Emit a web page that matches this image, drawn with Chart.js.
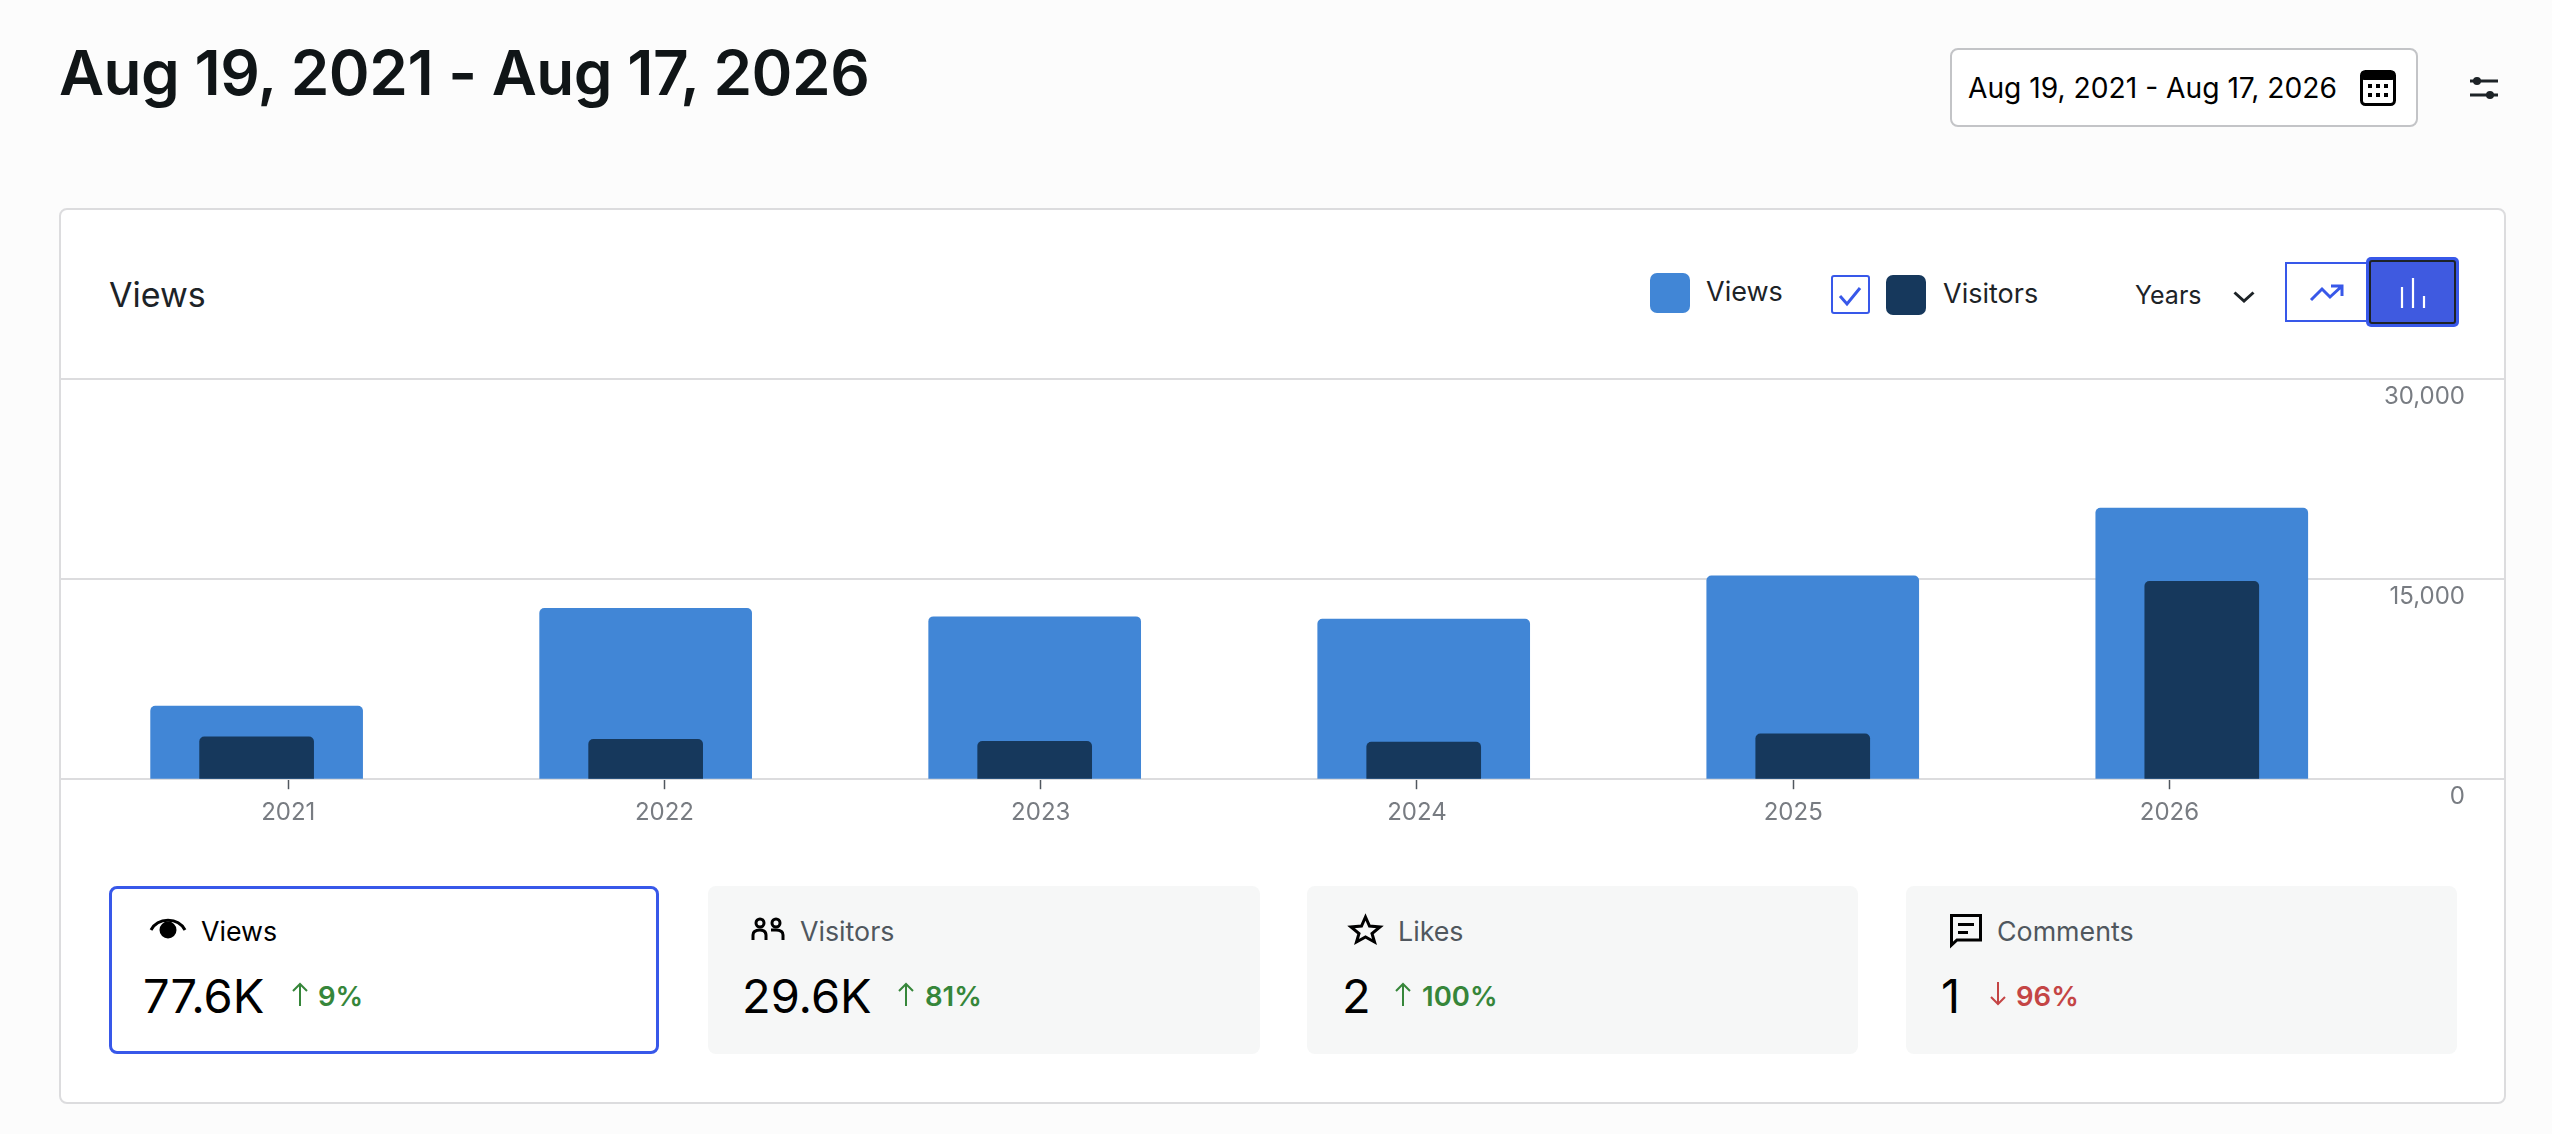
<!DOCTYPE html>
<html>
<head>
<meta charset="utf-8">
<title>Views</title>
<script src="https://cdn.jsdelivr.net/npm/chart.js@4/dist/chart.umd.min.js"></script>
<style>
  html, body { margin: 0; width: 2552px; height: 1134px; overflow: hidden; background: #fcfcfc; font-family: Inter, sans-serif; }
  .t { position: absolute; white-space: nowrap; line-height: 1; color: #000; }
  .box { position: absolute; box-sizing: border-box; }
  svg { position: absolute; overflow: visible; }
  .tile { background: #f6f7f7; border-radius: 8px; top: 886px; height: 168px; }
  .label { top: 918px; font-size: 26.800px; color: #50575e; }
  .value { top: 972px; font-size: 47px; font-weight: 400; }
  .change { top: 983px; font-size: 27.500px; font-weight: 600; color: #36863a; }
  #chartBox { position: absolute; left: 60px; top: 370px; width: 2446px; height: 480px; }
</style>
</head>
<body>
<!-- page header -->
<div class="t" style="left:59px;top:42px;font-size:62px;font-weight:600;color:#101517;letter-spacing:-0.5px">Aug 19, 2021 - Aug 17, 2026</div>
<div class="box" style="left:1950px;top:48px;width:468px;height:79px;background:#fff;border:2px solid #c3c4c7;border-radius:8px"></div>
<div class="t" style="left:1968px;top:74px;font-size:28.200px">Aug 19, 2021 - Aug 17, 2026</div>
<svg style="left:2360px;top:70px" width="36" height="36">
  <rect x="1.500" y="1.500" width="33" height="33" rx="4" fill="#fff" stroke="#000" stroke-width="3"/>
  <rect x="1" y="1" width="34" height="9" rx="3" fill="#000"/>
  <g fill="#000"><rect x="8" y="14" width="4" height="4"/><rect x="16" y="14" width="4" height="4"/><rect x="24" y="14" width="4" height="4"/><rect x="8" y="23" width="4" height="4"/><rect x="16" y="23" width="4" height="4"/><rect x="24" y="23" width="4" height="4"/></g>
</svg>
<svg style="left:2470px;top:76px" width="28" height="24">
  <g stroke="#1d2327" stroke-width="3"><line x1="0" y1="5" x2="28" y2="5"/><line x1="0" y1="19" x2="28" y2="19"/></g>
  <circle cx="7" cy="5" r="4" fill="#1d2327"/><circle cx="20" cy="19" r="4" fill="#1d2327"/>
</svg>

<!-- card -->
<div class="box" style="left:59px;top:208px;width:2447px;height:896px;background:#fff;border:2px solid #dcdcde;border-radius:8px"></div>
<div class="t" style="left:109px;top:278px;font-size:34px;color:#1d2327">Views</div>

<!-- legend -->
<div class="box" style="left:1650px;top:273px;width:40px;height:40px;background:#4186d6;border-radius:7px"></div>
<div class="t" style="left:1706px;top:278px;font-size:27px;color:#1d2327">Views</div>
<div class="box" style="left:1831px;top:275px;width:39px;height:39px;background:#fff;border:2px solid #3858e9;border-radius:3px"></div>
<svg style="left:1838px;top:285px" width="26" height="22"><path d="M2 11 L9 19 L22 3" fill="none" stroke="#3858e9" stroke-width="3"/></svg>
<div class="box" style="left:1886px;top:275px;width:40px;height:40px;background:#16385c;border-radius:7px"></div>
<div class="t" style="left:1943px;top:280px;font-size:27px;color:#1d2327">Visitors</div>

<!-- interval + chart type -->
<div class="t" style="left:2135px;top:283px;font-size:25px;color:#1d2327">Years</div>
<svg style="left:2233px;top:291px" width="22" height="12"><path d="M1.500 1.500 L11 10 L20.500 1.500" fill="none" stroke="#1d2327" stroke-width="3"/></svg>
<div class="box" style="left:2285px;top:262px;width:83px;height:60px;background:#fff;border:2px solid #3858e9"></div>
<svg style="left:2310px;top:284px" width="34" height="18"><path d="M1 16 L12 5 L20 13 L32 2 M21 2 H32 V12" fill="none" stroke="#3858e9" stroke-width="3"/></svg>
<div class="box" style="left:2366px;top:257px;width:93px;height:70px;background:#3858e9;border-radius:5px"></div>
<div class="box" style="left:2369px;top:260px;width:87px;height:64px;background:#3f5ae0;border:2px solid #1d2327;border-radius:3px"></div>
<svg style="left:2400px;top:278px" width="26" height="30"><g stroke="#fff" stroke-width="2.200"><line x1="2" y1="9" x2="2" y2="30"/><line x1="13" y1="0" x2="13" y2="30"/><line x1="24" y1="18" x2="24" y2="30"/></g></svg>

<div id="chartBox"><canvas id="viewsChart"></canvas></div>

<!-- stat tiles -->
<div class="box tile" style="left:109px;width:550px;background:#fff;border:3px solid #3858e9"></div>
<div class="box tile" style="left:708px;width:552px"></div>
<div class="box tile" style="left:1307px;width:551px"></div>
<div class="box tile" style="left:1906px;width:551px"></div>

<svg style="left:150px;top:920px" width="36" height="20">
  <path d="M1 10 C8 -3 28 -3 35 10" fill="none" stroke="#000" stroke-width="3"/><circle cx="18" cy="10" r="8.500" fill="#000"/>
</svg>
<div class="t label" style="left:201px;color:#000">Views</div>
<div class="t value" style="left:143px">77.6K</div>
<svg style="left:291px;top:982px" width="18" height="24"><path d="M9 24 V2 M2 9 L9 2 L16 9" fill="none" stroke="#36863a" stroke-width="2"/></svg>
<div class="t change" style="left:318px">9%</div>

<svg style="left:751px;top:918px" width="34" height="22">
  <g fill="none" stroke="#000" stroke-width="3"><circle cx="9" cy="5" r="4"/><circle cx="25" cy="5" r="4"/><path d="M2 22 V17 Q2 12 9 12 Q15 12 15 17 V22"/><path d="M20 12 H25 Q32 12 32 17 V22"/></g>
</svg>
<div class="t label" style="left:800px">Visitors</div>
<div class="t value" style="left:742px">29.6K</div>
<svg style="left:897px;top:982px" width="18" height="24"><path d="M9 24 V2 M2 9 L9 2 L16 9" fill="none" stroke="#36863a" stroke-width="2"/></svg>
<div class="t change" style="left:925px">81%</div>

<svg style="left:1349px;top:915px" width="33" height="28"><path d="M16.500 2 L20.500 11 L31 12 L23 18.500 L25.500 27 L16.500 22 L7.500 27 L10 18.500 L2 12 L12.500 11 Z" fill="none" stroke="#000" stroke-width="3"/></svg>
<div class="t label" style="left:1398px">Likes</div>
<div class="t value" style="left:1342px">2</div>
<svg style="left:1394px;top:982px" width="18" height="24"><path d="M9 24 V2 M2 9 L9 2 L16 9" fill="none" stroke="#36863a" stroke-width="2"/></svg>
<div class="t change" style="left:1422px">100%</div>

<svg style="left:1950px;top:914px" width="32" height="33"><path d="M1.500 31 V1.500 H30.500 V26 H7 Z" fill="none" stroke="#000" stroke-width="3"/><rect x="8" y="9" width="16" height="3" fill="#000"/><rect x="8" y="17" width="10" height="3" fill="#000"/></svg>
<div class="t label" style="left:1997px">Comments</div>
<div class="t value" style="left:1941px">1</div>
<svg style="left:1989px;top:982px" width="18" height="24"><path d="M9 0 V22 M2 15 L9 22 L16 15" fill="none" stroke="#c44545" stroke-width="2"/></svg>
<div class="t change" style="left:2016px;color:#c44545">96%</div>

<script>
const years = [2021, 2022, 2023, 2024, 2025, 2026];
const viewsValues = [5480, 12800, 12180, 12000, 15250, 20330];
const visitorValues = [3180, 2980, 2830, 2780, 3400, 14830];
const yTickValues = [0, 15000, 30000];

const toPoints = (values) => values.map((v, i) => ({ x: years[i], y: v }));
const topRound = { topLeft: 5, topRight: 5, bottomLeft: 0, bottomRight: 0 };

new Chart(document.getElementById('viewsChart'), {
  type: 'bar',
  data: {
    datasets: [
      { label: 'Visitors', data: toPoints(visitorValues), backgroundColor: '#16385c', barThickness: 114, borderRadius: topRound, borderSkipped: 'bottom', order: 1, base: 50 },
      { label: 'Views', data: toPoints(viewsValues), backgroundColor: '#4186d6', barThickness: 212, borderRadius: topRound, borderSkipped: 'bottom', order: 2, base: 50 }
    ]
  },
  options: {
    responsive: true,
    maintainAspectRatio: false,
    animation: false,
    grouped: false,
    layout: { padding: { top: 9, bottom: 14 } },
    plugins: { legend: { display: false }, tooltip: { enabled: false } },
    scales: {
      // bars sit on this one, the visible year ticks below don't line up with them
      x: {
        type: 'linear',
        display: false,
        offset: false,
        grid: { offset: false },
        min: 2020.4946,
        max: 2026.782
      },
      xTicks: {
        type: 'linear',
        position: 'bottom',
        offset: false,
        min: 2020.3934,
        max: 2026.8944,
        afterBuildTicks: (axis) => { axis.ticks = years.map((value) => ({ value })); },
        border: { display: false },
        grid: { offset: false, drawOnChartArea: false, drawTicks: true, tickLength: 10, tickColor: '#50575e', tickWidth: 1.500 },
        ticks: {
          autoSkip: false,
          maxRotation: 0,
          padding: 9,
          color: '#787c82',
          font: { family: 'Inter', size: 24 },
          callback: (v) => String(v)
        }
      },
      y: {
        position: 'right',
        min: 0,
        max: 30000,
        afterBuildTicks: (axis) => { axis.ticks = yTickValues.map((value) => ({ value })); },
        afterFit: (axis) => { axis.width = 0; },
        border: { display: false },
        grid: { color: '#dcdcde', lineWidth: 2, drawTicks: false },
        ticks: {
          mirror: true,
          padding: -41,
          labelOffset: 18,
          color: '#787c82',
          font: { family: 'Inter', size: 24 },
          callback: (v) => v.toLocaleString('en-US')
        }
      }
    }
  }
});
</script>
</body>
</html>
